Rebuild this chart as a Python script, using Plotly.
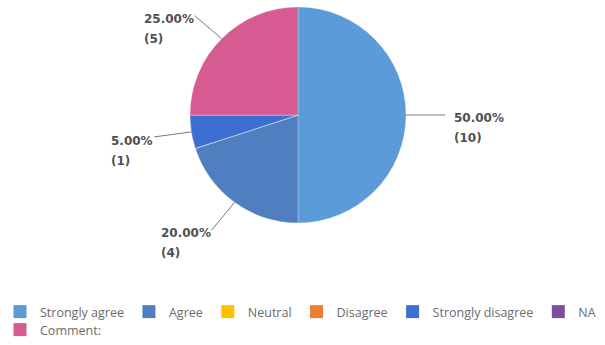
import math
import plotly.graph_objects as go

categories = ["Strongly agree", "Agree", "Neutral", "Disagree", "Strongly disagree", "NA", "Comment:"]
counts = [10, 4, 0, 0, 1, 0, 5]
colors = ["#5B9BD9", "#4F7FC0", "#FFC000", "#ED7D31", "#3D6FD0", "#7B4F9D", "#D75B93"]
legend_rows = ["legend", "legend", "legend", "legend", "legend", "legend", "legend2"]

W, H = 605, 345
cx, cy, R = 298, 115, 108  # pie centre/radius in pixels

fig = go.Figure()
fig.add_trace(go.Pie(
    labels=categories, values=counts, sort=False, direction="clockwise",
    rotation=0, marker=dict(colors=colors, line=dict(color="rgba(255,255,255,0.5)", width=0.5)),
    textinfo="none", hoverinfo="label+percent+value", showlegend=False,
    domain=dict(x=[(cx - R) / W, (cx + R) / W], y=[1 - (cy + R) / H, 1 - (cy - R) / H]),
))

# legend entries (two rows, packed like the original)
for cat, col, lg in zip(categories, colors, legend_rows):
    fig.add_trace(go.Scatter(
        x=[None], y=[None], mode="markers", name=cat, legend=lg,
        marker=dict(symbol="square", size=13, color=col, line=dict(width=0)),
        hoverinfo="skip",
    ))

# leader-line labels, computed from the data
total = sum(counts)
# per-slice label placement: (elbow dx, elbow dy from edge point, text side)
place = {
    "Strongly agree": (39, 0, "right"),
    "Agree": (-23, 28, "left"),
    "Strongly disagree": (-37, 5, "left"),
    "Comment:": (-27, -23, "left"),
}
shapes, annotations = [], []
cum = 0
for cat, v in zip(categories, counts):
    if v == 0:
        continue
    mid = (cum + v / 2) / total * 2 * math.pi
    cum += v
    ex = cx + R * math.sin(mid)
    ey = cy - R * math.cos(mid)
    dx, dy, side = place[cat]
    lx, ly = ex + dx, ey + dy
    shapes.append(dict(type="line", xref="paper", yref="paper",
                       x0=ex / W, y0=1 - ey / H, x1=lx / W, y1=1 - ly / H,
                       line=dict(color="#7a7a7a", width=1)))
    pct = v / total * 100
    sp = "<span style='font-size:12px'>"
    txt = f"{sp}{pct:.2f}%</span><br>{sp}({v})</span>"
    if side == "right":
        ax, anchor = (lx + 7) / W, "left"
    else:
        ax, anchor = (lx + 1) / W, "right"
    dyo = 4 if cat != "Strongly disagree" else 5
    annotations.append(dict(text=txt, x=ax, y=1 - (ly - 10 + dyo) / H, xref="paper", yref="paper",
                            xanchor=anchor, yanchor="top", showarrow=False, align="left",
                            font=dict(family="DejaVu Sans", size=15.5, color="#505050", weight="bold")))

legend_font = dict(family="Open Sans", size=12.5, color="#6b6b6b")
fig.update_layout(
    width=W, height=H, margin=dict(l=0, r=0, t=0, b=0),
    paper_bgcolor="white", plot_bgcolor="white",
    xaxis=dict(visible=False), yaxis=dict(visible=False),
    shapes=shapes, annotations=annotations,
    legend=dict(orientation="h", x=0, xanchor="left", y=1 - 297 / H, yanchor="top",
                font=legend_font, traceorder="normal", bgcolor="rgba(0,0,0,0)"),
    legend2=dict(orientation="h", x=0, xanchor="left", y=1 - 315 / H, yanchor="top",
                 font=legend_font, bgcolor="rgba(0,0,0,0)"),
    showlegend=True,
    hovermode="closest",
)
fig.write_html("out.html", config={"displayModeBar": False},
               post_script="document.body.style.margin='0px';")
